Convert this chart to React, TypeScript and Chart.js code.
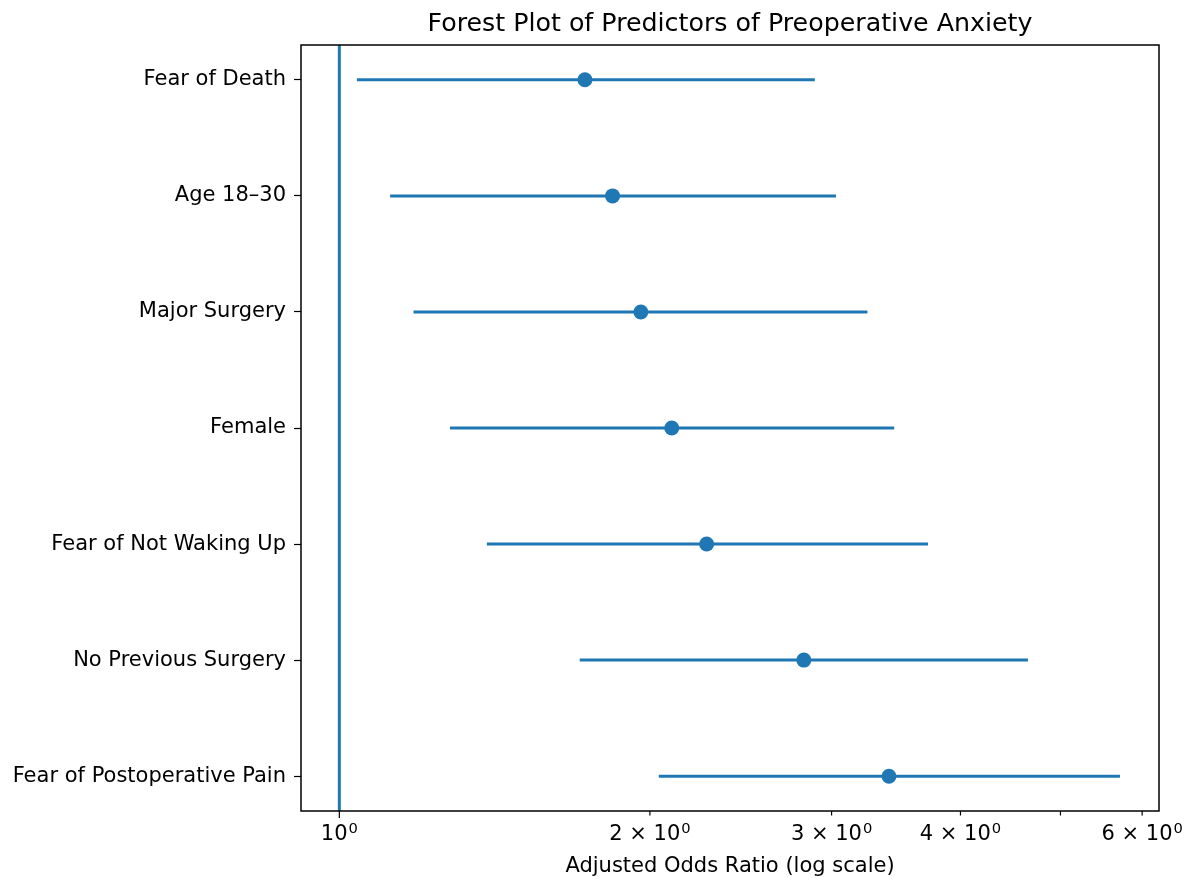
import React, { useEffect, useRef } from "react";
import { Chart, registerables } from "chart.js";

Chart.register(...registerables);

// ---- Data (bottom to top) ----
const categories = [
  "Fear of Postoperative Pain",
  "No Previous Surgery",
  "Fear of Not Waking Up",
  "Female",
  "Major Surgery",
  "Age 18–30",
  "Fear of Death",
];
const oddsRatios = [3.41, 2.82, 2.27, 2.1, 1.96, 1.84, 1.73];
const ciLower = [2.04, 1.71, 1.39, 1.28, 1.18, 1.12, 1.04];
const ciUpper = [5.71, 4.65, 3.72, 3.45, 3.25, 3.03, 2.89];

const referenceOR = 1;
const xTickValues = [1, 2, 3, 4, 5, 6];
const xTickLabels = ["10^0", "2 × 10^0", "3 × 10^0", "4 × 10^0", "", "6 × 10^0"];
const xMajorTicks = [1];

const titleText = "Forest Plot of Predictors of Preoperative Anxiety";
const xAxisTitle = "Adjusted Odds Ratio (log scale)";

const X_MIN = 0.918;
const X_MAX = 6.23;
const Y_MIN = -0.3;
const Y_MAX = 6.3;

const BLUE = "#1f77b4";
const FONT = "DejaVu Sans";
const FS = 21;

const framePlugin = {
  id: "frame",
  afterDraw(chart: any) {
    const { ctx, chartArea } = chart;
    const xs = chart.scales.x;
    ctx.save();
    // axes box
    ctx.strokeStyle = "#000";
    ctx.lineWidth = 1.5;
    ctx.strokeRect(
      chartArea.left,
      chartArea.top,
      chartArea.right - chartArea.left,
      chartArea.bottom - chartArea.top
    );
    // x ticks (major longer than minor) and labels with superscripts
    ctx.lineWidth = 1.2;
    const baseFont = `${FS}px "${FONT}"`;
    const supFont = `${(FS * 0.7).toFixed(1)}px "${FONT}"`;
    const baseY = chartArea.bottom + 29;
    xTickValues.forEach((v, i) => {
      const px = xs.getPixelForValue(v);
      const len = xMajorTicks.includes(v) ? 7 : 4.5;
      ctx.beginPath();
      ctx.moveTo(px, chartArea.bottom);
      ctx.lineTo(px, chartArea.bottom + len);
      ctx.stroke();
      const lbl = xTickLabels[i];
      if (!lbl) return;
      const [base, sup] = lbl.split("^");
      ctx.font = baseFont;
      const wb = ctx.measureText(base).width;
      ctx.font = supFont;
      const ws = ctx.measureText(sup || "").width;
      const start = px - (wb + ws + 1) / 2;
      ctx.fillStyle = "#000";
      ctx.textAlign = "left";
      ctx.textBaseline = "alphabetic";
      ctx.font = baseFont;
      ctx.fillText(base, start, baseY);
      if (sup) {
        ctx.font = supFont;
        ctx.fillText(sup, start + wb + 1, baseY - 7.5);
      }
    });
    // title
    ctx.fillStyle = "#000";
    ctx.font = `25.3px "${FONT}"`;
    ctx.textAlign = "center";
    ctx.textBaseline = "middle";
    ctx.fillText(titleText, (chartArea.left + chartArea.right) / 2, 24);
    ctx.restore();
  },
};

export default function App() {
  const canvasRef = useRef<HTMLCanvasElement | null>(null);

  useEffect(() => {
    if (!canvasRef.current) return;

    const errorBarSets = categories.map((c, i) => ({
      type: "line" as const,
      label: c,
      data: [
        { x: ciLower[i], y: i },
        { x: ciUpper[i], y: i },
      ],
      borderColor: BLUE,
      borderWidth: 3,
      borderCapStyle: "butt" as const,
      pointRadius: 0,
      order: 1,
    }));

    const chart = new Chart(canvasRef.current, {
      type: "scatter",
      data: {
        datasets: [
          {
            type: "scatter",
            label: "OR",
            data: oddsRatios.map((v, i) => ({ x: v, y: i })),
            backgroundColor: BLUE,
            borderColor: BLUE,
            borderWidth: 0,
            pointRadius: 7.5,
            order: 0,
          },
          ...errorBarSets,
          {
            type: "line",
            label: "ref",
            data: [
              { x: referenceOR, y: Y_MIN },
              { x: referenceOR, y: Y_MAX },
            ],
            borderColor: BLUE,
            borderWidth: 3,
            pointRadius: 0,
            order: 2,
          },
        ] as any,
      },
      options: {
        animation: false,
        responsive: false,
        devicePixelRatio: 1,
        events: [],
        layout: { padding: { top: 45, right: 30, left: 0, bottom: 0 } },
        plugins: {
          legend: { display: false },
          tooltip: { enabled: false },
          title: { display: false },
        },
        scales: {
          x: {
            type: "logarithmic",
            min: X_MIN,
            max: X_MAX,
            border: { display: false },
            grid: { display: true, drawOnChartArea: false, drawTicks: false },
            afterBuildTicks: (scale: any) => {
              scale.ticks = xTickValues.map((v) => ({ value: v }));
            },
            afterFit: (scale: any) => {
              scale.height = 68;
              scale.paddingLeft = 0;
              scale.paddingRight = 0;
            },
            ticks: {
              display: false,
              autoSkip: false,
              maxRotation: 0,
              minRotation: 0,
            },
            title: {
              display: true,
              text: xAxisTitle,
              color: "#000",
              font: { family: FONT, size: FS },
              padding: { top: 0, bottom: 0 },
            },
          },
          y: {
            type: "linear",
            min: Y_MIN,
            max: Y_MAX,
            border: { display: false },
            grid: {
              display: true,
              drawOnChartArea: false,
              drawTicks: true,
              tickLength: 7,
              tickColor: "#000",
              tickWidth: 1.2,
            },
            afterBuildTicks: (scale: any) => {
              scale.ticks = categories.map((_, i) => ({ value: i }));
            },
            afterFit: (scale: any) => {
              scale.width = 301;
              scale.paddingTop = 0;
              scale.paddingBottom = 0;
            },
            ticks: {
              autoSkip: false,
              padding: 8,
              color: "#000",
              font: { family: FONT, size: FS },
              callback: (value: any) => categories[Number(value)] ?? "",
            },
          },
        },
      },
      plugins: [framePlugin],
    } as any);

    return () => chart.destroy();
  }, []);

  return (
    <div
      style={{
        position: "absolute",
        left: 0,
        top: 0,
        width: 1189,
        height: 879,
        background: "#fff",
      }}
    >
      <canvas ref={canvasRef} width={1189} height={879} />
    </div>
  );
}
